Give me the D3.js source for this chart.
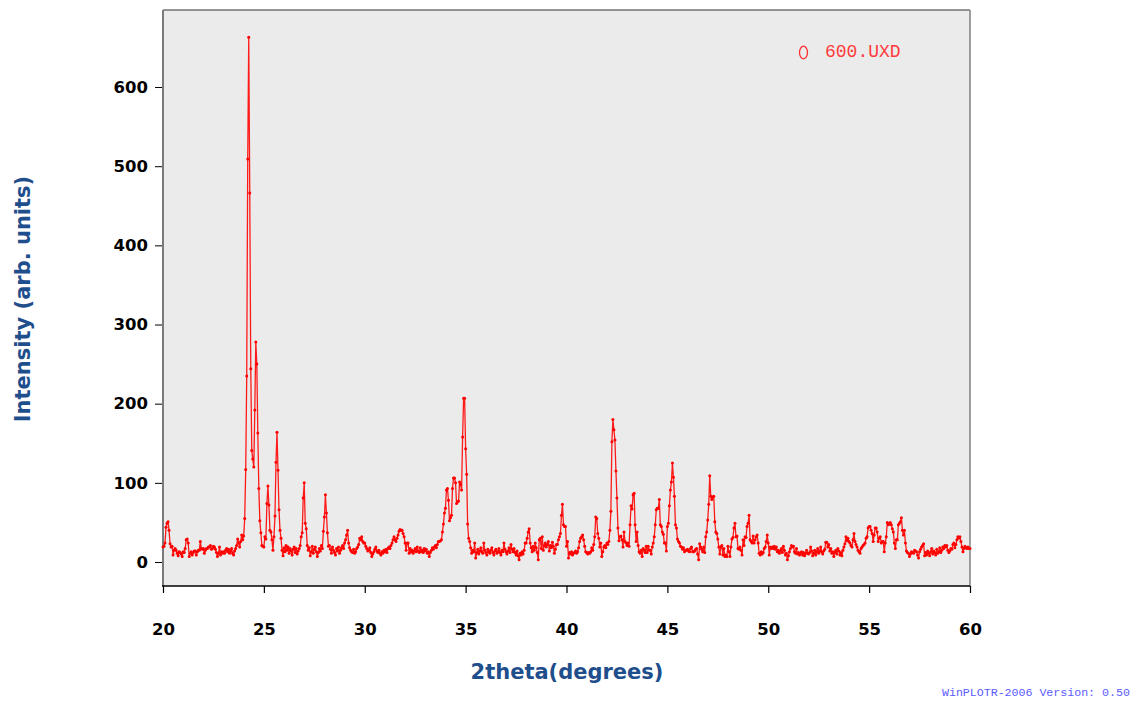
<!DOCTYPE html>
<html>
<head>
<meta charset="utf-8">
<script src="https://cdn.jsdelivr.net/npm/d3@7"></script>
<style>
  html, body { margin: 0; padding: 0; background: #ffffff; }
  svg { display: block; }
</style>
</head>
<body>
<svg id="chart" width="1136" height="703"></svg>
<script>
// ---- data ----
const thetaStart = 20;     // first 2theta of the scan (degrees)
const thetaStep = 0.05;    // scan step (degrees)
const intensity = [
  19,20,24,44,49,51,40,23,19,20,9,15,17,15,11,8,13,12,10,7,
  13,12,17,28,29,24,7,11,13,9,12,14,14,9,13,15,15,26,17,16,
  17,11,15,17,17,19,19,21,16,17,20,19,16,12,7,11,19,9,13,11,
  13,11,15,17,13,16,11,14,17,11,9,14,17,21,29,24,19,26,34,28,
  33,55,117,235,509,663,466,244,141,130,120,192,278,250,163,93,52,37,21,20,
  19,32,29,74,96,72,40,38,28,15,32,58,126,164,116,66,40,30,15,8,
  18,13,21,15,19,11,17,14,9,16,19,12,17,10,14,17,21,32,37,81,
  100,49,42,21,15,18,8,13,20,11,16,19,13,7,12,17,14,21,17,39,
  57,85,62,37,20,21,16,11,19,15,12,9,17,14,19,11,15,18,21,17,
  24,28,34,40,24,18,15,13,12,16,11,13,17,19,22,30,28,32,26,24,
  24,20,17,14,15,18,12,7,10,13,16,19,14,12,15,11,9,13,11,15,
  13,16,12,17,19,17,21,24,28,32,28,26,30,34,39,41,40,40,36,32,
  24,15,24,24,11,17,13,15,11,14,17,13,19,14,12,18,13,15,12,17,
  14,16,11,13,7,12,15,18,16,19,21,18,22,26,26,27,28,38,48,62,
  68,91,93,78,52,56,59,93,106,106,100,74,76,77,101,98,91,158,207,207,
  143,111,48,30,26,18,11,15,13,24,5,12,16,10,14,18,13,11,24,15,
  12,9,16,13,11,15,18,12,9,14,16,11,13,17,12,9,15,13,24,16,
  13,10,14,18,12,22,16,13,17,12,9,14,8,3,11,9,13,10,15,24,
  24,30,38,42,24,18,13,20,15,24,18,12,3,28,30,17,32,15,21,24,
  19,22,26,14,21,18,25,20,11,16,22,22,28,32,36,59,73,47,45,45,
  20,26,5,12,10,13,9,11,12,14,11,13,18,26,30,32,34,28,20,13,
  12,10,12,11,13,18,15,22,32,57,55,36,30,19,24,7,13,19,21,18,
  24,22,26,40,64,152,180,167,154,115,81,43,27,32,33,28,19,38,26,24,
  21,24,20,47,71,67,85,87,47,26,38,21,13,11,15,7,17,15,12,20,
  12,20,15,15,10,19,24,32,47,66,68,68,79,47,45,38,35,24,24,14,
  45,49,71,91,101,125,107,83,47,43,29,26,24,20,19,16,18,13,15,15,
  16,14,13,17,19,13,13,14,16,17,10,3,23,19,16,13,19,12,32,38,
  53,73,109,83,79,82,83,51,38,36,29,19,10,19,21,9,17,7,9,7,
  20,13,7,19,29,31,43,49,32,33,17,16,19,15,9,28,21,32,31,45,
  49,59,28,26,24,33,24,28,32,34,24,11,9,13,10,12,17,19,26,34,
  24,9,19,17,19,17,20,16,19,13,15,11,14,17,12,20,15,9,11,3,
  8,13,17,21,19,20,13,11,17,10,12,9,11,13,9,12,8,11,15,11,
  10,12,19,14,8,11,15,9,13,17,11,14,19,13,10,14,16,25,25,19,
  22,14,17,11,13,7,12,15,10,17,14,9,12,8,15,19,23,32,27,30,
  26,24,21,19,28,36,26,22,19,15,13,11,17,19,21,22,24,30,32,43,
  45,45,40,36,26,34,43,43,38,26,30,32,24,26,26,13,24,32,50,47,
  48,50,47,42,38,24,17,28,28,47,49,51,56,40,34,40,24,14,12,11,
  7,10,13,12,11,15,14,13,9,5,13,16,19,21,23,8,12,9,14,11,
  8,13,17,10,14,12,9,16,11,13,18,12,15,19,17,21,19,21,15,12,
  14,17,16,22,24,18,22,28,32,30,32,26,19,13,17,20,18,17,19,17,
  17
];
const xTicks = [20, 25, 30, 35, 40, 45, 50, 55, 60];
const yTicks = [0, 100, 200, 300, 400, 500, 600];
const xDomain = [20, 60];
const yDomain = [-30.3, 697.3];
const seriesName = "600.UXD";
const xTitle = "2theta(degrees)";
const yTitle = "Intensity (arb. units)";
const footer = "WinPLOTR-2006 Version: 0.50";

// ---- layout ----
const plot = { left: 163, right: 970, top: 10, bottom: 586 };
const svg = d3.select("#chart");

const x = d3.scaleLinear().domain(xDomain).range([plot.left, plot.right]);
const y = d3.scaleLinear().domain(yDomain).range([plot.bottom, plot.top]);

const data = intensity.map((v, i) => ({ t: thetaStart + i * thetaStep, v: v }));

// plot background
svg.append("rect")
  .attr("x", plot.left).attr("y", plot.top)
  .attr("width", plot.right - plot.left).attr("height", plot.bottom - plot.top)
  .attr("fill", "#ebebeb");

const tickFont = "'DejaVu Sans', Verdana, sans-serif";

// y axis (ticks outside, left)
const yAxis = d3.axisLeft(y).tickValues(yTicks).tickSize(8).tickPadding(7).tickFormat(d3.format("d"));
const gy = svg.append("g").attr("transform", `translate(${plot.left},0)`).call(yAxis);
gy.select(".domain").remove();
gy.selectAll(".tick line").attr("stroke", "#000").attr("stroke-width", 1);
gy.selectAll(".tick text")
  .attr("font-family", tickFont).attr("font-weight", "bold")
  .attr("font-size", "16.5px").attr("fill", "#000");

// x axis (ticks outside, bottom)
const xAxis = d3.axisBottom(x).tickValues(xTicks).tickSize(7).tickPadding(30).tickFormat(d3.format("d"));
const gx = svg.append("g").attr("transform", `translate(0,${plot.bottom})`).call(xAxis);
gx.select(".domain").remove();
gx.selectAll(".tick line").attr("stroke", "#000").attr("stroke-width", 1.2);
gx.selectAll(".tick text")
  .attr("font-family", tickFont).attr("font-weight", "bold")
  .attr("font-size", "16.5px").attr("fill", "#000");

// frame
svg.append("line").attr("x1", plot.left).attr("x2", plot.right)
  .attr("y1", plot.top).attr("y2", plot.top)
  .attr("stroke", "#333").attr("stroke-width", 1);
svg.append("line").attr("x1", plot.right).attr("x2", plot.right)
  .attr("y1", plot.top).attr("y2", plot.bottom)
  .attr("stroke", "#808080").attr("stroke-width", 1.5);
svg.append("line").attr("x1", plot.left).attr("x2", plot.left)
  .attr("y1", plot.top).attr("y2", plot.bottom)
  .attr("stroke", "#7a7a7a").attr("stroke-width", 2);
svg.append("line").attr("x1", plot.left - 1).attr("x2", plot.right)
  .attr("y1", plot.bottom).attr("y2", plot.bottom)
  .attr("stroke", "#000").attr("stroke-width", 1.5);

// data line + markers
const line = d3.line().x(d => x(d.t)).y(d => y(d.v));
svg.append("path").datum(data)
  .attr("d", line)
  .attr("fill", "none")
  .attr("stroke", "#ff1a1a")
  .attr("stroke-width", 1.3)
  .attr("stroke-linejoin", "round");

svg.append("g").selectAll("circle").data(data).join("circle")
  .attr("cx", d => x(d.t)).attr("cy", d => y(d.v))
  .attr("r", 1.5)
  .attr("fill", "#ff0000");

// legend
svg.append("ellipse")
  .attr("cx", 803.5).attr("cy", 52.5).attr("rx", 4).attr("ry", 6.3)
  .attr("fill", "none").attr("stroke", "#ff3030").attr("stroke-width", 1.3);
svg.append("text")
  .attr("x", 825).attr("y", 57)
  .attr("font-family", "'Liberation Mono', 'Courier New', monospace")
  .attr("font-size", "18px")
  .attr("fill", "#ff3b3b")
  .text(seriesName);

// axis titles
const titleColor = "#1f4e8c";
svg.append("text")
  .attr("x", 567).attr("y", 679)
  .attr("text-anchor", "middle")
  .attr("font-family", tickFont).attr("font-weight", "bold")
  .attr("font-size", "21px").attr("fill", titleColor)
  .text(xTitle);
svg.append("text")
  .attr("transform", "translate(30,299) rotate(-90)")
  .attr("text-anchor", "middle")
  .attr("font-family", tickFont).attr("font-weight", "bold")
  .attr("font-size", "21px").attr("fill", titleColor)
  .text(yTitle);

// footer
svg.append("text")
  .attr("x", 942).attr("y", 696)
  .attr("font-family", "'Liberation Mono', 'Courier New', monospace")
  .attr("font-size", "11.6px")
  .attr("fill", "#5a5aff")
  .text(footer);
</script>
</body>
</html>
